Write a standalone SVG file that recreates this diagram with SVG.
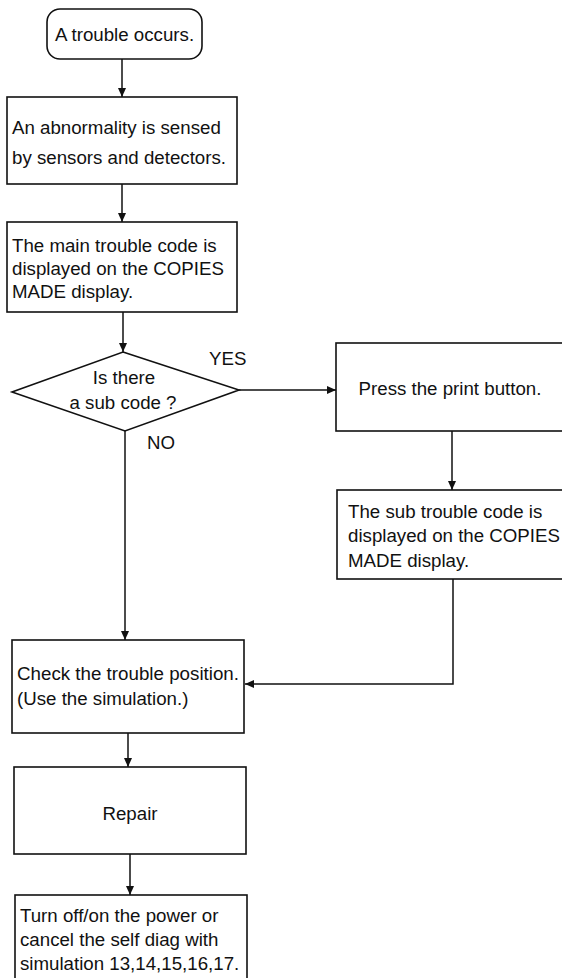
<svg xmlns="http://www.w3.org/2000/svg" width="562" height="978" viewBox="0 0 562 978">
<defs>
<marker id="ah" markerWidth="10" markerHeight="10" refX="9" refY="5" orient="auto" markerUnits="userSpaceOnUse">
<path d="M0,1 L9,5 L0,9 Z" fill="#111"/>
</marker>
<style>
.box{fill:#fff;stroke:#111;stroke-width:1.6}
.t{font-family:"Liberation Sans",Arial,sans-serif;font-size:18.7px;fill:#111}
.c{text-anchor:middle}
.ln{fill:none;stroke:#111;stroke-width:1.5}
</style>
</defs>
<rect width="562" height="978" fill="#fff"/>

<g id="connectors">
<line class="ln" x1="122" y1="59" x2="122" y2="97" stroke-width="2.4" marker-end="url(#ah)"/>
<line class="ln" x1="122" y1="184" x2="122" y2="222" marker-end="url(#ah)"/>
<line class="ln" x1="123" y1="312" x2="123" y2="352" marker-end="url(#ah)"/>
<line class="ln" x1="239" y1="390" x2="336" y2="390" marker-end="url(#ah)"/>
<line class="ln" x1="125" y1="431" x2="125" y2="640" marker-end="url(#ah)"/>
<line class="ln" x1="452" y1="431" x2="452" y2="490" marker-end="url(#ah)"/>
<polyline class="ln" points="453,579 453,684 245,684" marker-end="url(#ah)"/>
<line class="ln" x1="128" y1="733" x2="128" y2="767" marker-end="url(#ah)"/>
<line class="ln" x1="130" y1="854" x2="130" y2="895" marker-end="url(#ah)"/>
<text class="t" x="209" y="365">YES</text>
<text class="t" x="147" y="449">NO</text>
</g>

<g id="start">
<rect class="box" x="47" y="9" width="155" height="50" rx="13"/>
<text class="t c" x="124.5" y="41">A trouble occurs.</text>
</g>

<g id="sense">
<rect class="box" x="7" y="97" width="230" height="87"/>
<text class="t" x="12" y="134">An abnormality is sensed</text>
<text class="t" x="12" y="164">by sensors and detectors.</text>
</g>

<g id="maincode">
<rect class="box" x="7" y="222" width="230" height="90"/>
<text class="t" x="12" y="252">The main trouble code is</text>
<text class="t" x="12" y="275">displayed on the COPIES</text>
<text class="t" x="12" y="298">MADE display.</text>
</g>

<g id="decision">
<polygon class="box" points="123,352 239,390 125,431 12,392"/>
<text class="t c" x="124" y="384">Is there</text>
<text class="t c" x="123" y="409">a sub code ?</text>
</g>

<g id="press">
<rect class="box" x="336" y="343" width="230" height="88"/>
<text class="t c" x="450" y="395">Press the print button.</text>
</g>

<g id="subcode">
<rect class="box" x="337" y="490" width="230" height="89"/>
<text class="t" x="348" y="518">The sub trouble code is</text>
<text class="t" x="348" y="542">displayed on the COPIES</text>
<text class="t" x="348" y="567">MADE display.</text>
</g>

<g id="check">
<rect class="box" x="12" y="640" width="232" height="93"/>
<text class="t" x="17" y="680" textLength="222" lengthAdjust="spacingAndGlyphs">Check the trouble position.</text>
<text class="t" x="17" y="705">(Use the simulation.)</text>
</g>

<g id="repair">
<rect class="box" x="14" y="767" width="232" height="87"/>
<text class="t c" x="130" y="820">Repair</text>
</g>

<g id="reset">
<rect class="box" x="15" y="895" width="232" height="90"/>
<text class="t" x="20" y="922">Turn off/on the power or</text>
<text class="t" x="20" y="946">cancel the self diag with</text>
<text class="t" x="20" y="970">simulation 13,14,15,16,17.</text>
</g>
</svg>
